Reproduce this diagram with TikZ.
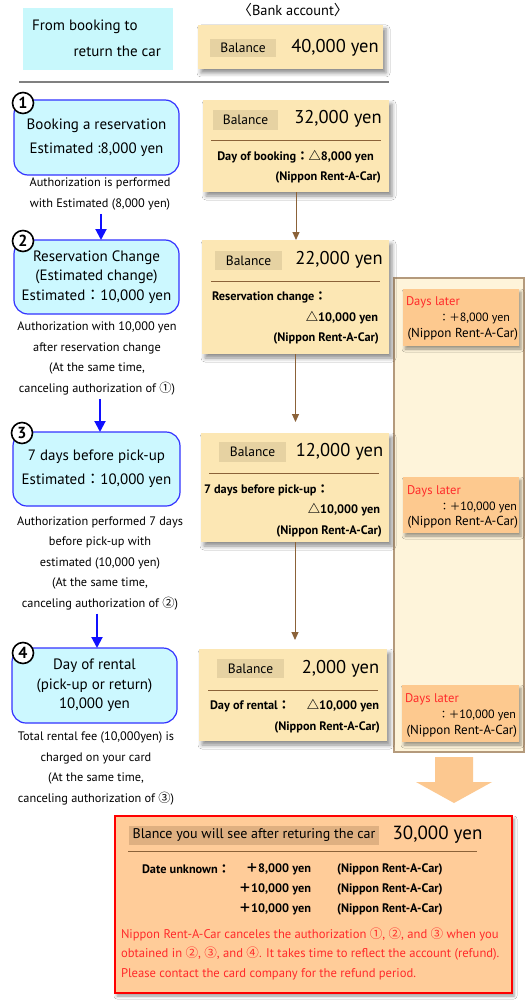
\documentclass[tikz,border=0pt]{standalone}
\usepackage{fontspec}
\setmainfont{PT Sans}
\newfontfamily\cjk{Noto Sans CJK JP}
\usetikzlibrary{shadows.blur,arrows.meta,calc}
\definecolor{cyanfill}{HTML}{C8F8FC}
\definecolor{stepfill}{HTML}{CCF8FF}
\definecolor{stepborder}{HTML}{3333FF}
\definecolor{balfill}{HTML}{FCE7B4}
\definecolor{lblfill}{HTML}{E6D2A2}
\definecolor{brownline}{HTML}{8B6239}
\definecolor{colfill}{HTML}{FEF4DA}
\definecolor{colborder}{HTML}{B49A7C}
\definecolor{orangefill}{HTML}{FDC98F}
\definecolor{redtext}{HTML}{FF2A2A}
\definecolor{peach}{HTML}{FFCC99}
\definecolor{peachlbl}{HTML}{DFB081}
\definecolor{arrowfill}{HTML}{FCC890}
\newcommand{\cj}[1]{{\cjk #1}}
\newcommand{\cjs}[1]{{\cjk\fontsize{10.5}{10.5}\selectfont #1}}
\begin{document}
\begin{tikzpicture}[x=1pt,y=-1pt,
  every node/.style={inner sep=0pt, outer sep=0pt},
  cyanbox/.style={fill=cyanfill, draw=none},
  stepbox/.style={draw=stepborder, line width=1.2pt, fill=stepfill, rounded corners=14pt, align=center, font=\fontsize{15}{19.5}\selectfont},
  numcirc/.style={circle, draw=black, line width=1.6pt, fill=white, minimum size=21pt, font=\fontsize{16}{16}\selectfont\bfseries},
  desc/.style={align=center, font=\fontsize{12.3}{20.5}\selectfont},
  balbox/.style={fill=balfill, draw=none, blur shadow={shadow xshift=3pt, shadow yshift=-4pt, shadow blur radius=4pt, shadow opacity=45}},
  lblbox/.style={fill=lblfill, font=\fontsize{13.5}{13.5}\selectfont},
  amount/.style={font=\fontsize{18.5}{18.5}\selectfont},
  detail/.style={font=\fontsize{12.3}{12.3}\selectfont\bfseries},
  sepline/.style={draw=brownline, line width=0.8pt},
  bluearr/.style={draw={rgb,255:red,16;green,16;blue,255}, line width=2pt, -{Triangle[length=11pt,width=11pt]}},
  brownarr/.style={draw=brownline, line width=1pt, -{Triangle[length=8pt,width=7pt]}},
  orangebox/.style={fill=orangefill, draw=none, blur shadow={shadow xshift=2pt, shadow yshift=-3pt, shadow blur radius=3pt, shadow opacity=40}},
  otext/.style={font=\fontsize{13}{13}\selectfont},
  otextb/.style={font=\fontsize{12}{12}\selectfont},
  redt/.style={text=redtext, font=\fontsize{12.6}{12.6}\selectfont}
]
\useasboundingbox[fill=white] (0,0) rectangle (528,1003);

% header
\node[cyanbox, minimum width=150pt, minimum height=62pt] (hdr) at (98,39) {};
\node[anchor=west, font=\fontsize{15}{15}\selectfont] (hdrA) at (32,27) {From booking to};
\node[anchor=east, font=\fontsize{15}{15}\selectfont] (hdrB) at (161,51) {return the car};
\node[font=\fontsize{14.4}{14.4}\selectfont] (bank) at (293,10) {\cj{〈}Bank account\cj{〉}};

\node[balbox, minimum width=185pt, minimum height=44pt] (b0) at (290.5,47) {};
\node[lblbox, minimum width=66pt, minimum height=18pt] (l0) at (243,48) {Balance};
\node[amount] (a0) at (335,48) {40,000 yen};

\draw[draw=gray, line width=1.5pt] (19,82) coordinate (hlA) -- (389,82) coordinate (hlB);

% right column
\node[fill=colfill, draw=colborder, line width=2pt, minimum width=130pt, minimum height=474pt] (col) at (459,515) {};

% step 1
\node[stepbox, minimum width=165pt, minimum height=75pt] (s1) at (96.5,137.5) {Booking a reservation\\[4.5pt]Estimated :8,000 yen};
\node[numcirc] (n1) at (23,103) {1};
\node[desc] (d1) at (100,194) {Authorization is performed\\with Estimated (8,000 yen)};

\node[balbox, minimum width=186pt, minimum height=92pt] (b1) at (296,146) {};
\node[lblbox, minimum width=65pt, minimum height=20pt] (l1) at (245.5,120) {Balance};
\node[amount] (a1) at (338,119) {32,000 yen};
\draw[sepline] (211,140) coordinate (L1a) -- (381,140) coordinate (L1b);
\node[detail] (t1a) at (295.5,157) {Day of booking\cj{：△}8,000 yen};
\node[detail, anchor=east] (t1b) at (381,177) {(Nippon Rent-A-Car)};

% step 2
\node[stepbox, minimum width=165pt, minimum height=74pt] (s2) at (96.5,277) {Reservation Change\\(Estimated change)\\Estimated\cj{：}10,000 yen};
\node[numcirc] (n2) at (23,241) {2};
\node[desc] (d2) at (97,358.5) {Authorization with 10,000 yen\\after reservation change\\(At the same time,\\canceling authorization of \cj{①})};

\node[balbox, minimum width=187pt, minimum height=114pt] (b2) at (295.5,297) {};
\node[lblbox, minimum width=67pt, minimum height=19pt] (l2) at (248.5,260.5) {Balance};
\node[amount] (a2) at (339,260) {22,000 yen};
\draw[sepline] (211,281) coordinate (L2a) -- (380,281) coordinate (L2b);
\node[detail, anchor=west] (t2a) at (212,297) {Reservation change\cj{：}};
\node[detail, anchor=east] (t2b) at (378,318) {\cj{△}10,000 yen};
\node[detail, anchor=east] (t2c) at (379,338) {(Nippon Rent-A-Car)};

% step 3
\node[stepbox, minimum width=167pt, minimum height=74pt] (s3) at (96.5,469) {7 days before pick-up\\[4.5pt]Estimated\cj{：}10,000 yen};
\node[numcirc] (n3) at (22,433) {3};
\node[desc] (d3) at (100,563) {Authorization performed 7 days\\before pick-up with\\estimated (10,000 yen)\\(At the same time,\\canceling authorization of \cj{②})};

\node[balbox, minimum width=188pt, minimum height=109pt] (b3) at (295,487.5) {};
\node[lblbox, minimum width=67pt, minimum height=20pt] (l3) at (252.5,452) {Balance};
\node[amount] (a3) at (339.5,452) {12,000 yen};
\draw[sepline] (209,473) coordinate (L3a) -- (379,473) coordinate (L3b);
\node[detail, anchor=west] (t3a) at (204,490) {7 days before pick-up\cj{：}};
\node[detail, anchor=east] (t3b) at (380,510) {\cj{△}10,000 yen};
\node[detail, anchor=east] (t3c) at (382,531) {(Nippon Rent-A-Car)};

% step 4
\node[stepbox, minimum width=165pt, minimum height=75pt] (s4) at (94.5,685.5) {Day of rental\\(pick-up or return)\\10,000 yen};
\node[numcirc] (n4) at (23,653) {4};
\node[desc] (d4) at (96,768.5) {Total rental fee (10,000yen) is\\charged on your card\\(At the same time,\\canceling authorization of \cj{③})};

\node[balbox, minimum width=188pt, minimum height=92pt] (b4) at (293,695) {};
\node[lblbox, minimum width=67pt, minimum height=19pt] (l4) at (250.5,668.5) {Balance};
\node[amount] (a4) at (340.5,669) {2,000 yen};
\draw[sepline] (208,690) coordinate (L4a) -- (378,690) coordinate (L4b);
\node[detail, anchor=west] (t4a) at (210,706) {Day of rental\cj{：}};
\node[detail, anchor=east] (t4b) at (379,706) {\cj{△}10,000 yen};
\node[detail, anchor=east] (t4c) at (380,727) {(Nippon Rent-A-Car)};

% blue arrows
\draw[bluearr] (d1.south) ++(1,4) coordinate (ba1) -- (ba1 |- s2.north);
\draw[bluearr] (d2.south) ++(3,4) coordinate (ba2) -- (ba2 |- s3.north);
\draw[bluearr] (d3.south) ++(-3,4) coordinate (ba3) -- (ba3 |- s4.north);

% brown arrows
\draw[brownarr] (b1.south) -- (b1.south |- b2.north);
\draw[brownarr, shorten >=11pt] (b2.south) -- (b2.south |- b3.north);
\draw[brownarr, shorten >=9pt] (b3.south) -- (b3.south |- b4.north);

% orange boxes
\node[orangebox, minimum width=116pt, minimum height=57pt] (o1) at (461,317.5) {};
\node[redt, anchor=west] (o1a) at (406,302) {Days later};
\node[otextb, anchor=east] (o1b) at (510,318) {\cjs{：＋}8,000 yen};
\node[otext, anchor=east] (o1c) at (518,334) {(Nippon Rent-A-Car)};

\node[orangebox, minimum width=116pt, minimum height=56pt] (o2) at (461,505) {};
\node[redt, anchor=west] (o2a) at (407,491) {Days later};
\node[otextb, anchor=east] (o2b) at (517,507) {\cjs{：＋}10,000 yen};
\node[otext, anchor=east] (o2c) at (518,522) {(Nippon Rent-A-Car)};

\node[orangebox, minimum width=117pt, minimum height=57pt] (o3) at (460.5,713.5) {};
\node[redt, anchor=west] (o3a) at (405,699) {Days later};
\node[otextb, anchor=east] (o3b) at (516,715) {\cjs{：＋}10,000 yen};
\node[otext, anchor=east] (o3c) at (517,731) {(Nippon Rent-A-Car)};

% big arrow
\fill[arrowfill] (435,757) -- (473,757) -- (473,782) -- (492,782) -- (454,803) -- (416,782) -- (435,782) -- cycle;

% bottom box
\node[fill=peach, draw=red, line width=2pt, minimum width=397pt, minimum height=177pt, blur shadow={shadow xshift=2pt, shadow yshift=-3pt, shadow blur radius=3pt, shadow opacity=40}] (b5) at (313.5,904.5) {};
\node[fill=peachlbl, minimum width=250pt, minimum height=19pt, font=\fontsize{14}{14}\selectfont] (l5) at (254,835.5) {Blance you will see after returing the car};
\node[font=\fontsize{19}{19}\selectfont] (a5) at (437.5,835) {30,000 yen};
\draw[sepline] (128,851) coordinate (L5a) -- (477,851) coordinate (L5b);
\node[detail, anchor=west] (r1a) at (142,869) {Date unknown\cj{：}};
\node[detail, anchor=east] (r1b) at (311,869) {\cj{＋}8,000 yen};
\node[detail, anchor=west] (r1c) at (337,869) {(Nippon Rent-A-Car)};
\node[detail, anchor=east] (r2b) at (311,889) {\cj{＋}10,000 yen};
\node[detail, anchor=west] (r2c) at (337,889) {(Nippon Rent-A-Car)};
\node[detail, anchor=east] (r3b) at (311,909) {\cj{＋}10,000 yen};
\node[detail, anchor=west] (r3c) at (337,909) {(Nippon Rent-A-Car)};
\node[redt, anchor=west] (m1) at (121,934) {Nippon Rent-A-Car canceles the authorization \cj{①}, \cj{②}, and \cj{③} when you};
\node[redt, anchor=west] (m2) at (121,954) {obtained in \cj{②}, \cj{③}, and \cj{④}. It takes time to reflect the account (refund).};
\node[redt, anchor=west] (m3) at (121,974) {Please contact the card company for the refund period.};
\end{tikzpicture}
\end{document}
